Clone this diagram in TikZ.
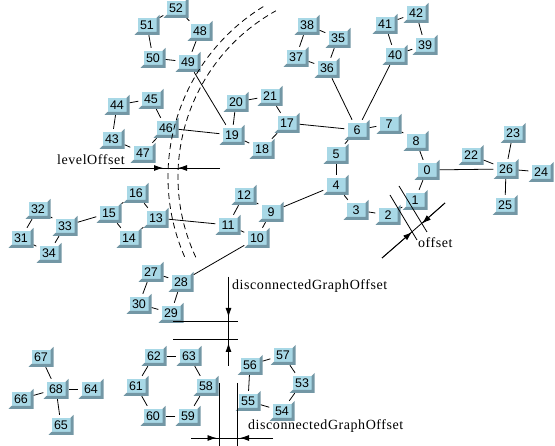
\documentclass[tikz,border=0pt]{standalone}
\usepackage{fontspec}
\setmainfont{Liberation Serif}
\newfontfamily\chiffres{Liberation Sans}
\usepackage{tikz}
\usetikzlibrary{arrows.meta}
\definecolor{bleuclair}{HTML}{A8D8E6}
\definecolor{ardoise}{HTML}{7397A5}
\tikzset{boite/.style={
    rectangle,
    minimum width=25pt,
    minimum height=20pt,
    inner sep=0pt,
    font=\chiffres\fontsize{12.5}{13}\selectfont,
    path picture={
      \fill[bleuclair] ([shift={(3pt,3pt)}]path picture bounding box.south west)
        rectangle ([shift={(-3pt,-3pt)}]path picture bounding box.north east);
      \fill[ardoise] (path picture bounding box.south west)
        -- (path picture bounding box.south east)
        -- (path picture bounding box.north east)
        -- ([shift={(-3pt,-3pt)}]path picture bounding box.north east)
        -- ([shift={(-3pt,3pt)}]path picture bounding box.south east)
        -- ([shift={(3pt,3pt)}]path picture bounding box.south west)
        -- cycle;}},
  lien/.style={line width=0.8pt},
  cote/.style={line width=0.8pt},
  texte/.style={anchor=base west,
    inner sep=0pt,
    font=\fontsize{14}{16}\selectfont\addfontfeatures{LetterSpace=4}}}

\begin{document}
\begin{tikzpicture}[x=1pt, y=-1pt, >={Latex[length=9pt,width=6pt]}]

\useasboundingbox (0,0) rectangle (555,446);

\foreach \i/\x/\y in {0/427/170, 1/415/200, 2/388/215, 3/356/210, 4/336/185,
    5/336/154, 6/357/130, 7/389/124, 8/416/141, 9/271/212, 10/257/238,
    11/228/225, 12/244/195, 13/156/218, 14/129/238, 15/109/213, 16/136/193,
    17/287/123, 18/262/149, 19/232/135, 20/236/102, 21/270/96, 22/471/155,
    23/513/133, 24/541/172, 25/505/205, 26/506/169, 27/151/272, 28/181/282,
    29/171/313, 30/139/304, 31/21/238, 32/38/209, 33/65/226, 34/49/253,
    35/338/38, 36/327/68, 37/296/57, 38/307/25, 39/425/45, 40/395/55,
    41/385/24, 42/416/13, 43/112/139, 44/117/105, 45/151/99, 46/166/128,
    47/143/153, 48/200/31, 49/188/62, 50/153/58, 51/147/25, 52/176/8,
    53/302/383, 54/282/411, 55/248/401, 56/250/365, 57/283/355, 58/206/386,
    59/188/416, 60/153/416, 61/136/386, 62/154/356, 63/189/356, 64/91/389,
    65/61/425, 66/21/399, 67/41/357, 68/56/389}
  \node[boite] (n\i) at (\x,\y) {\i};

\foreach \a/\b in {52/51, 52/48, 51/50, 48/49, 50/49, 49/19,
    44/45, 44/43, 45/46, 43/47, 47/46, 46/19,
    20/21, 20/19, 19/18, 21/17, 18/17, 17/6,
    38/35, 38/37, 35/36, 37/36, 36/6,
    41/42, 41/40, 42/39, 40/39, 40/6,
    6/5, 6/7, 7/8, 8/0, 5/4, 4/3, 3/2, 2/1, 1/0, 4/9,
    0/26, 22/26, 23/26, 26/24, 26/25,
    12/9, 12/11, 9/10, 11/10, 11/13, 13/16, 13/14, 16/15, 14/15,
    15/33, 32/33, 32/31, 31/34, 34/33,
    10/28, 28/27, 28/29, 27/30, 30/29,
    67/68, 66/68, 68/64, 68/65,
    62/63, 63/58, 58/59, 59/60, 60/61, 61/62,
    56/57, 57/53, 53/54, 54/55, 55/56}
  \draw[lien] (n\a) -- (n\b);

\draw[cote, dash pattern=on 6pt off 4pt] (368,177) ++(156.5:200)
  arc[start angle=156.5, end angle=238.5, radius=200];
\draw[cote, dash pattern=on 6pt off 4pt] (368,177) ++(155:190)
  arc[start angle=155, end angle=241, radius=190];

\coordinate (L1) at (110,168);
\coordinate (L2) at (163,168);
\coordinate (L3) at (178,168);
\coordinate (L4) at (220,168);
\draw[cote] (L1) -- (L4);
\draw[cote,->] (L1) -- (L2);
\draw[cote,->] (L4) -- (L3);
\node[texte] (lvl) at (57,165) {levelOffset};

\coordinate (O1) at (382,258);
\coordinate (O2) at (412,232);
\coordinate (O3) at (422,223.5);
\coordinate (O4) at (445,203);
\draw[cote] (390,195) -- (417,240);
\draw[cote] (399,186) -- (427,232);
\draw[cote] (O1) -- (O4);
\draw[cote,->] (O1) -- (O2);
\draw[cote,->] (O4) -- (O3);
\node[texte] (off) at (418,248) {offset};

\coordinate (V1) at (228.5,277);
\coordinate (V2) at (228.5,317);
\coordinate (V3) at (228.5,343);
\coordinate (V4) at (228.5,366);
\draw[cote] (173,321.5) -- (238,321.5);
\draw[cote] (173,339.5) -- (238,339.5);
\draw[cote] (V1) -- (V4);
\draw[cote,->] (V1) -- (V2);
\draw[cote,->] (V4) -- (V3);
\node[texte] (dgo1) at (232,290) {disconnectedGraphOffset};

\coordinate (H1) at (191,438);
\coordinate (H2) at (216.5,438);
\coordinate (H3) at (240,438);
\coordinate (H4) at (273,438);
\draw[cote] (219,383) -- (219,446);
\draw[cote] (237.5,383) -- (237.5,446);
\draw[cote] (H1) -- (H4);
\draw[cote,->] (H1) -- (H2);
\draw[cote,->] (H4) -- (H3);
\node[texte] (dgo2) at (248,430) {disconnectedGraphOffset};

\end{tikzpicture}
\end{document}
